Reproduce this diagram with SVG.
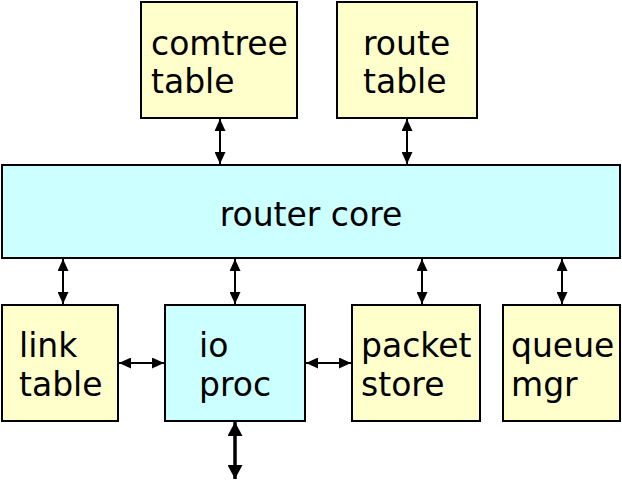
<svg xmlns="http://www.w3.org/2000/svg" width="622" height="502" viewBox="0 0 622 502">
<defs>
<marker id="ah" viewBox="0 0 12 11" refX="12" refY="5.5" markerWidth="12" markerHeight="11" markerUnits="userSpaceOnUse" orient="auto-start-reverse"><path d="M0,0 L12,5.5 L0,11 z" fill="#000"/></marker>
<marker id="ahb" viewBox="0 0 14 15" refX="14" refY="7.5" markerWidth="14" markerHeight="15" markerUnits="userSpaceOnUse" orient="auto-start-reverse"><path d="M0,0 L14,7.5 L0,15 z" fill="#000"/></marker>
</defs>
<style>
.y{fill:#FFFFCC;stroke:#000;stroke-width:2}
.c{fill:#CCFFFF;stroke:#000;stroke-width:2}
text{font-family:"DejaVu Sans",Verdana,sans-serif;font-size:33px;fill:#000}
.l{stroke:#000;stroke-width:2;fill:none;marker-start:url(#ah);marker-end:url(#ah)}
.lb{stroke:#000;stroke-width:3.5;fill:none;marker-start:url(#ahb);marker-end:url(#ahb)}
</style>
<g id="comtree"><rect class="y" x="141" y="2" width="156" height="116"/><text x="151" y="55">comtree</text><text x="151" y="93">table</text></g>
<g id="route"><rect class="y" x="337" y="2" width="140" height="116"/><text x="363" y="55">route</text><text x="363" y="93">table</text></g>
<g id="core"><rect class="c" x="2" y="165" width="618" height="93"/><text x="311" y="226" text-anchor="middle">router core</text></g>
<g id="link"><rect class="y" x="2" y="305" width="116" height="116"/><text x="19" y="357">link</text><text x="19" y="396">table</text></g>
<g id="io"><rect class="c" x="165" y="305" width="140" height="116"/><text x="199" y="357">io</text><text x="199" y="396">proc</text></g>
<g id="packet"><rect class="y" x="352" y="305" width="128" height="116"/><text x="361" y="357">packet</text><text x="361" y="396">store</text></g>
<g id="queue"><rect class="y" x="503" y="305" width="117" height="116"/><text x="511" y="357">queue</text><text x="511" y="396">mgr</text></g>
<g id="connectors">
<line class="l" x1="220" y1="119" x2="220" y2="164"/>
<line class="l" x1="407" y1="119" x2="407" y2="164"/>
<line class="l" x1="63" y1="259" x2="63" y2="304"/>
<line class="l" x1="235" y1="259" x2="235" y2="304"/>
<line class="l" x1="422" y1="259" x2="422" y2="304"/>
<line class="l" x1="562" y1="259" x2="562" y2="304"/>
<line class="l" x1="119" y1="363" x2="164" y2="363"/>
<line class="l" x1="306" y1="363" x2="351" y2="363"/>
<line class="lb" x1="235" y1="422" x2="235" y2="479"/>
</g>
</svg>
